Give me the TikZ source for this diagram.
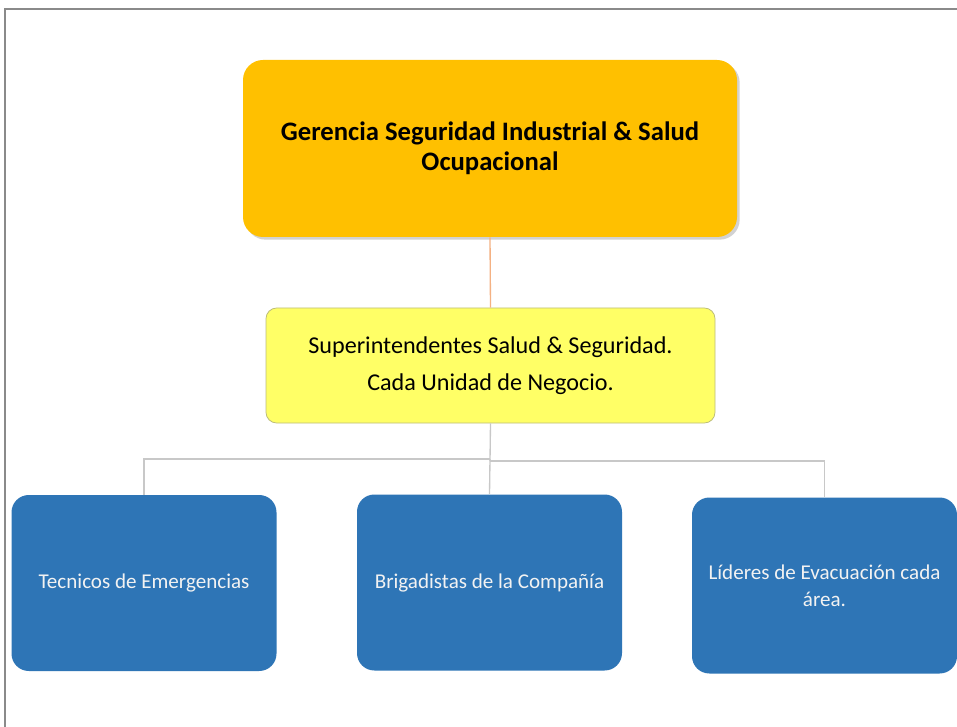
\documentclass[tikz,border=0pt]{standalone}
\usepackage{fontspec}
\setmainfont{Carlito}
\usetikzlibrary{shadows}
\definecolor{topfill}{HTML}{FFC000}
\definecolor{supfill}{HTML}{FFFF66}
\definecolor{supdraw}{HTML}{BDBD7A}
\definecolor{bluefill}{HTML}{2E75B6}
\definecolor{graylink}{HTML}{C8C8C8}
\definecolor{orangelink}{HTML}{F4B183}
\definecolor{framegray}{HTML}{8A8A8A}
\tikzset{
  topbox/.style={fill=topfill, rounded corners=15pt, inner sep=0pt, align=center,
    minimum width=494*0.75pt, minimum height=177*0.75pt,
    font=\fontsize{20}{22.5}\selectfont\bfseries,
    drop shadow={shadow xshift=2pt, shadow yshift=-2pt, opacity=0.35}},
  supbox/.style={fill=supfill, draw=supdraw, line width=0.6pt, rounded corners=8pt, inner sep=0pt, align=center,
    minimum width=449*0.75pt, minimum height=115*0.75pt,
    font=\fontsize{18.1}{28}\selectfont},
  leafbox/.style={fill=bluefill, rounded corners=13pt, inner sep=0pt, align=center,
    minimum width=265*0.75pt, minimum height=176*0.75pt,
    text=white!95!black, font=\fontsize{15.8}{20}\selectfont},
  glink/.style={draw=graylink, line width=1pt},
  olink/.style={draw=orangelink, line width=1pt},
  framel/.style={draw=framegray, line width=1.4pt}
}
\begin{document}
\begin{tikzpicture}[x=0.75pt, y=-0.75pt]
\useasboundingbox (0,0) rectangle (957,727);
\fill[white] (0,0) rectangle (957,727);
\draw[framel] (5,727) -- (5,9) -- (957,9);

\node[topbox] (top) at (490,148.5) {Gerencia Seguridad Industrial \& Salud\\Ocupacional};
\node[supbox] (sup) at (490.5,365.5) {Superintendentes Salud \& Seguridad.\\Cada Unidad de Negocio.};
\node[leafbox] (c1) at (144,583) {Tecnicos de Emergencias};
\node[leafbox] (c2) at (489.5,582.5) {Brigadistas de la Compañía};
\node[leafbox] (c3) at (824.5,585.5) {Líderes de Evacuación cada\\área.};

\draw[olink] (top.south) -- (sup.north);
\coordinate (j1) at (490,459);
\coordinate (j2) at (490,461);
\draw[glink] (sup.south) -- (j2);
\draw[glink] (j1) -| (c1.north);
\draw[glink] (j1) -- (c2.north);
\draw[glink] (j2) -| (c3.north);
\end{tikzpicture}
\end{document}
